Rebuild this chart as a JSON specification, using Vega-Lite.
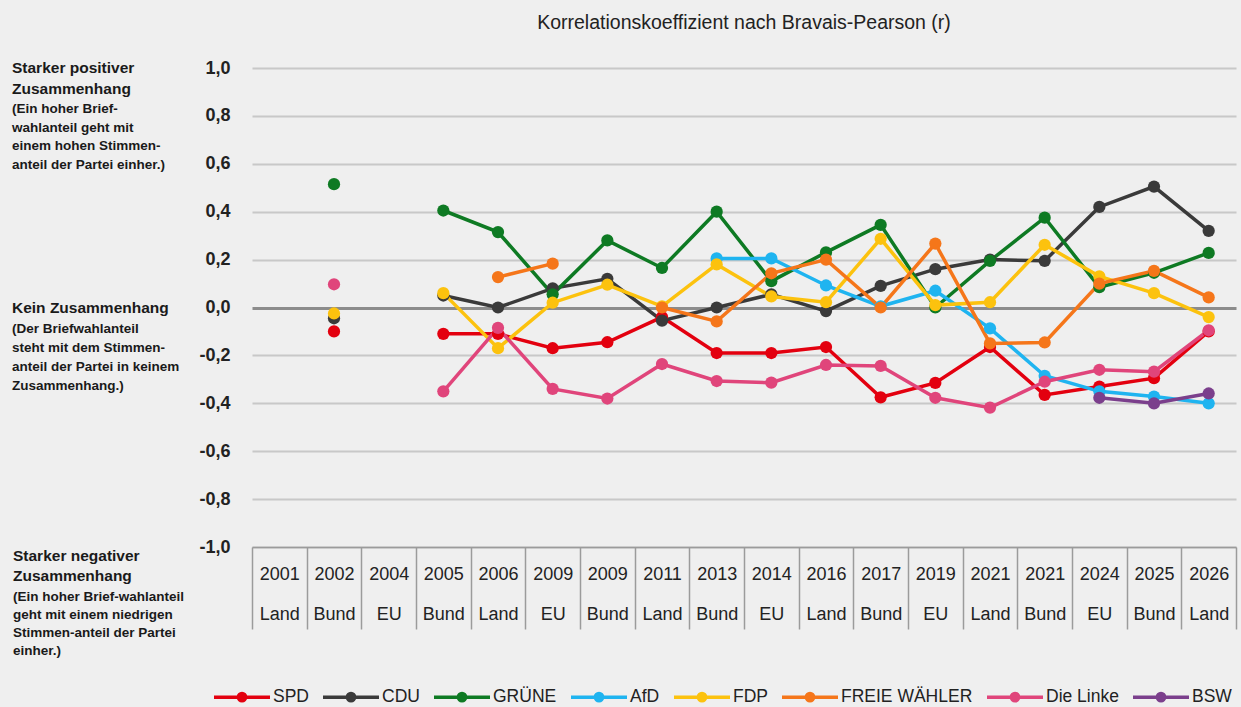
{
  "$schema": "https://vega.github.io/schema/vega-lite/v6.json",
  "background": "#efefef",
  "padding": {"left": 12, "top": 12, "right": 5, "bottom": 5},
  "width": 984,
  "height": 479,
  "title": {"text": "Korrelationskoeffizient nach Bravais-Pearson (r)", "font": "Liberation Sans, sans-serif", "fontSize": 19.5, "fontWeight": "normal", "color": "#222222", "anchor": "middle", "offset": 26},
  "config": {"view": {"stroke": null}, "font": "Liberation Sans, sans-serif"},
  "datasets": {
    "pts": [
      {"w":"2002 Bund","i":2,"p":"SPD","r":-0.10},{"w":"2004 EU","i":3,"p":"SPD","r":null},{"w":"2005 Bund","i":4,"p":"SPD","r":-0.11},{"w":"2006 Land","i":5,"p":"SPD","r":-0.11},{"w":"2009 EU","i":6,"p":"SPD","r":-0.17},{"w":"2009 Bund","i":7,"p":"SPD","r":-0.145},{"w":"2011 Land","i":8,"p":"SPD","r":-0.04},{"w":"2013 Bund","i":9,"p":"SPD","r":-0.19},{"w":"2014 EU","i":10,"p":"SPD","r":-0.19},{"w":"2016 Land","i":11,"p":"SPD","r":-0.165},{"w":"2017 Bund","i":12,"p":"SPD","r":-0.375},{"w":"2019 EU","i":13,"p":"SPD","r":-0.315},{"w":"2021 Land","i":14,"p":"SPD","r":-0.165},{"w":"2021 Bund","i":15,"p":"SPD","r":-0.365},{"w":"2024 EU","i":16,"p":"SPD","r":-0.33},{"w":"2025 Bund","i":17,"p":"SPD","r":-0.295},{"w":"2026 Land","i":18,"p":"SPD","r":-0.10},
      {"w":"2002 Bund","i":2,"p":"CDU","r":-0.045},{"w":"2004 EU","i":3,"p":"CDU","r":null},{"w":"2005 Bund","i":4,"p":"CDU","r":0.05},{"w":"2006 Land","i":5,"p":"CDU","r":0.0},{"w":"2009 EU","i":6,"p":"CDU","r":0.08},{"w":"2009 Bund","i":7,"p":"CDU","r":0.12},{"w":"2011 Land","i":8,"p":"CDU","r":-0.055},{"w":"2013 Bund","i":9,"p":"CDU","r":0.0},{"w":"2014 EU","i":10,"p":"CDU","r":0.055},{"w":"2016 Land","i":11,"p":"CDU","r":-0.015},{"w":"2017 Bund","i":12,"p":"CDU","r":0.09},{"w":"2019 EU","i":13,"p":"CDU","r":0.16},{"w":"2021 Land","i":14,"p":"CDU","r":0.20},{"w":"2021 Bund","i":15,"p":"CDU","r":0.195},{"w":"2024 EU","i":16,"p":"CDU","r":0.42},{"w":"2025 Bund","i":17,"p":"CDU","r":0.505},{"w":"2026 Land","i":18,"p":"CDU","r":0.32},
      {"w":"2002 Bund","i":2,"p":"GRÜNE","r":0.515},{"w":"2004 EU","i":3,"p":"GRÜNE","r":null},{"w":"2005 Bund","i":4,"p":"GRÜNE","r":0.405},{"w":"2006 Land","i":5,"p":"GRÜNE","r":0.315},{"w":"2009 EU","i":6,"p":"GRÜNE","r":0.055},{"w":"2009 Bund","i":7,"p":"GRÜNE","r":0.28},{"w":"2011 Land","i":8,"p":"GRÜNE","r":0.165},{"w":"2013 Bund","i":9,"p":"GRÜNE","r":0.40},{"w":"2014 EU","i":10,"p":"GRÜNE","r":0.11},{"w":"2016 Land","i":11,"p":"GRÜNE","r":0.23},{"w":"2017 Bund","i":12,"p":"GRÜNE","r":0.345},{"w":"2019 EU","i":13,"p":"GRÜNE","r":0.0},{"w":"2021 Land","i":14,"p":"GRÜNE","r":0.195},{"w":"2021 Bund","i":15,"p":"GRÜNE","r":0.375},{"w":"2024 EU","i":16,"p":"GRÜNE","r":0.085},{"w":"2025 Bund","i":17,"p":"GRÜNE","r":0.145},{"w":"2026 Land","i":18,"p":"GRÜNE","r":0.228},
      {"w":"2013 Bund","i":9,"p":"AfD","r":0.205},{"w":"2014 EU","i":10,"p":"AfD","r":0.205},{"w":"2016 Land","i":11,"p":"AfD","r":0.092},{"w":"2017 Bund","i":12,"p":"AfD","r":0.005},{"w":"2019 EU","i":13,"p":"AfD","r":0.07},{"w":"2021 Land","i":14,"p":"AfD","r":-0.087},{"w":"2021 Bund","i":15,"p":"AfD","r":-0.285},{"w":"2024 EU","i":16,"p":"AfD","r":-0.35},{"w":"2025 Bund","i":17,"p":"AfD","r":-0.372},{"w":"2026 Land","i":18,"p":"AfD","r":-0.40},
      {"w":"2002 Bund","i":2,"p":"FDP","r":-0.025},{"w":"2004 EU","i":3,"p":"FDP","r":null},{"w":"2005 Bund","i":4,"p":"FDP","r":0.06},{"w":"2006 Land","i":5,"p":"FDP","r":-0.17},{"w":"2009 EU","i":6,"p":"FDP","r":0.02},{"w":"2009 Bund","i":7,"p":"FDP","r":0.095},{"w":"2011 Land","i":8,"p":"FDP","r":0.005},{"w":"2013 Bund","i":9,"p":"FDP","r":0.18},{"w":"2014 EU","i":10,"p":"FDP","r":0.046},{"w":"2016 Land","i":11,"p":"FDP","r":0.022},{"w":"2017 Bund","i":12,"p":"FDP","r":0.287},{"w":"2019 EU","i":13,"p":"FDP","r":0.01},{"w":"2021 Land","i":14,"p":"FDP","r":0.022},{"w":"2021 Bund","i":15,"p":"FDP","r":0.262},{"w":"2024 EU","i":16,"p":"FDP","r":0.13},{"w":"2025 Bund","i":17,"p":"FDP","r":0.06},{"w":"2026 Land","i":18,"p":"FDP","r":-0.04},
      {"w":"2006 Land","i":5,"p":"FREIE WÄHLER","r":0.127},{"w":"2009 EU","i":6,"p":"FREIE WÄHLER","r":0.183},{"w":"2009 Bund","i":7,"p":"FREIE WÄHLER","r":null},{"w":"2011 Land","i":8,"p":"FREIE WÄHLER","r":0.0},{"w":"2013 Bund","i":9,"p":"FREIE WÄHLER","r":-0.058},{"w":"2014 EU","i":10,"p":"FREIE WÄHLER","r":0.143},{"w":"2016 Land","i":11,"p":"FREIE WÄHLER","r":0.2},{"w":"2017 Bund","i":12,"p":"FREIE WÄHLER","r":0.0},{"w":"2019 EU","i":13,"p":"FREIE WÄHLER","r":0.267},{"w":"2021 Land","i":14,"p":"FREIE WÄHLER","r":-0.15},{"w":"2021 Bund","i":15,"p":"FREIE WÄHLER","r":-0.146},{"w":"2024 EU","i":16,"p":"FREIE WÄHLER","r":0.10},{"w":"2025 Bund","i":17,"p":"FREIE WÄHLER","r":0.153},{"w":"2026 Land","i":18,"p":"FREIE WÄHLER","r":0.042},
      {"w":"2002 Bund","i":2,"p":"Die Linke","r":0.097},{"w":"2004 EU","i":3,"p":"Die Linke","r":null},{"w":"2005 Bund","i":4,"p":"Die Linke","r":-0.35},{"w":"2006 Land","i":5,"p":"Die Linke","r":-0.085},{"w":"2009 EU","i":6,"p":"Die Linke","r":-0.34},{"w":"2009 Bund","i":7,"p":"Die Linke","r":-0.38},{"w":"2011 Land","i":8,"p":"Die Linke","r":-0.236},{"w":"2013 Bund","i":9,"p":"Die Linke","r":-0.307},{"w":"2014 EU","i":10,"p":"Die Linke","r":-0.314},{"w":"2016 Land","i":11,"p":"Die Linke","r":-0.24},{"w":"2017 Bund","i":12,"p":"Die Linke","r":-0.244},{"w":"2019 EU","i":13,"p":"Die Linke","r":-0.377},{"w":"2021 Land","i":14,"p":"Die Linke","r":-0.418},{"w":"2021 Bund","i":15,"p":"Die Linke","r":-0.31},{"w":"2024 EU","i":16,"p":"Die Linke","r":-0.26},{"w":"2025 Bund","i":17,"p":"Die Linke","r":-0.268},{"w":"2026 Land","i":18,"p":"Die Linke","r":-0.095},
      {"w":"2024 EU","i":16,"p":"BSW","r":-0.377},{"w":"2025 Bund","i":17,"p":"BSW","r":-0.40},{"w":"2026 Land","i":18,"p":"BSW","r":-0.359}
    ],
    "notes": [
      {"r": 1.0, "head": "Starker positiver\nZusammenhang", "sub": "(Ein hoher Brief-\nwahlanteil  geht mit\neinem hohen Stimmen-\nanteil der Partei einher.)"},
      {"r": 0.0, "head": "Kein Zusammenhang", "sub": "(Der Briefwahlanteil\nsteht mit dem Stimmen-\nanteil der Partei in keinem\nZusammenhang.)"},
      {"r": -1.0, "head": "Starker negativer\nZusammenhang", "sub": "(Ein hoher Brief-wahlanteil\ngeht mit einem niedrigen\nStimmen-anteil der Partei\neinher.)"}
    ]
  },
  "layer": [
    {
      "data": {"name": "pts"},
      "mark": {"type": "line", "strokeWidth": 3.5, "point": {"filled": true, "size": 150, "opacity": 1}},
      "encoding": {
        "x": {
          "field": "w", "type": "nominal",
          "scale": {"type": "band", "paddingInner": 0, "paddingOuter": 0, "domain": ["2001 Land","2002 Bund","2004 EU","2005 Bund","2006 Land","2009 EU","2009 Bund","2011 Land","2013 Bund","2014 EU","2016 Land","2017 Bund","2019 EU","2021 Land","2021 Bund","2024 EU","2025 Bund","2026 Land"]},
          "axis": {"title": null, "labelAngle": 0, "labelExpr": "split(datum.label, ' ')", "labelLineHeight": 40, "labelFontSize": 18, "labelColor": "#222222", "labelBaseline": "top", "labelPadding": -64, "tickBand": "extent", "tickSize": 82, "tickColor": "#9b9b9b", "tickWidth": 1.5, "domainColor": "#9b9b9b", "domainWidth": 1.5, "grid": false}
        },
        "y": {
          "field": "r", "type": "quantitative",
          "scale": {"domain": [-1, 1], "nice": false, "zero": false},
          "axis": {"title": null, "values": [-1, -0.8, -0.6, -0.4, -0.2, 0, 0.2, 0.4, 0.6, 0.8, 1], "labelExpr": "replace(replace(format(datum.value, '.1f'), '.', ','), '\u2212', '-')", "labelFontSize": 18, "labelFontWeight": "bold", "labelColor": "#222222", "labelPadding": 22, "ticks": false, "domain": false, "grid": true, "gridColor": {"condition": {"test": "datum.value === 0", "value": "#8c8c8c"}, "value": "#c8c8c8"}, "gridWidth": {"condition": {"test": "datum.value === 0", "value": 3}, "value": 2}}
        },
        "color": {
          "field": "p", "type": "nominal",
          "scale": {"domain": ["SPD","CDU","GRÜNE","AfD","FDP","FREIE WÄHLER","Die Linke","BSW"], "range": ["#e3000f","#3a3a3a","#0e7a23","#1fb4f0","#fcc20e","#f5761a","#e0457b","#7b3f8c"]},
          "legend": {"title": null, "orient": "none", "legendX": -40, "legendY": 599, "direction": "horizontal", "columns": 8, "labelFontSize": 17.5, "labelColor": "#222222", "symbolType": "M-1,0H1M0.13,0A0.13,0.13 0 1,1 -0.13,0A0.13,0.13 0 1,1 0.13,0", "symbolSize": 3136, "symbolStrokeWidth": 3.5, "labelOffset": 1, "columnPadding": 7}
        },
        "order": {"field": "i", "type": "quantitative"}
      }
    },
    {
      "data": {"name": "notes"},
      "transform": [{"filter": "datum.r >= 0"}],
      "mark": {"type": "text", "align": "left", "baseline": "top", "dy": -7, "fontSize": 15.5, "fontWeight": "bold", "lineHeight": 21, "lineBreak": "\n", "color": "#1a1a1a"},
      "encoding": {
        "x": {"datum": -0.2439, "type": "quantitative", "scale": {"domain": [0, 1]}, "axis": null},
        "y": {"field": "r", "type": "quantitative", "title": null},
        "text": {"field": "head"}
      }
    },
    {
      "data": {"name": "notes"},
      "transform": [{"filter": "datum.r < 0"}],
      "mark": {"type": "text", "align": "left", "baseline": "top", "dy": 2, "fontSize": 15.5, "fontWeight": "bold", "lineHeight": 20, "lineBreak": "\n", "color": "#1a1a1a"},
      "encoding": {
        "x": {"datum": -0.2429, "type": "quantitative", "scale": {"domain": [0, 1]}, "axis": null},
        "y": {"field": "r", "type": "quantitative", "title": null},
        "text": {"field": "head"}
      }
    },
    {
      "data": {"name": "notes"},
      "transform": [{"filter": "datum.r == 1"}],
      "mark": {"type": "text", "align": "left", "baseline": "top", "dy": 34, "fontSize": 13.5, "fontWeight": "bold", "lineHeight": 18.5, "lineBreak": "\n", "color": "#1a1a1a"},
      "encoding": {
        "x": {"datum": -0.2439, "type": "quantitative", "scale": {"domain": [0, 1]}, "axis": null},
        "y": {"field": "r", "type": "quantitative", "title": null},
        "text": {"field": "sub"}
      }
    },
    {
      "data": {"name": "notes"},
      "transform": [{"filter": "datum.r == 0"}],
      "mark": {"type": "text", "align": "left", "baseline": "top", "dy": 14, "fontSize": 13.5, "fontWeight": "bold", "lineHeight": 19, "lineBreak": "\n", "color": "#1a1a1a"},
      "encoding": {
        "x": {"datum": -0.2439, "type": "quantitative", "scale": {"domain": [0, 1]}, "axis": null},
        "y": {"field": "r", "type": "quantitative", "title": null},
        "text": {"field": "sub"}
      }
    },
    {
      "data": {"name": "notes"},
      "transform": [{"filter": "datum.r == -1"}],
      "mark": {"type": "text", "align": "left", "baseline": "top", "dy": 43, "fontSize": 13.5, "fontWeight": "bold", "lineHeight": 18, "lineBreak": "\n", "color": "#1a1a1a"},
      "encoding": {
        "x": {"datum": -0.2429, "type": "quantitative", "scale": {"domain": [0, 1]}, "axis": null},
        "y": {"field": "r", "type": "quantitative", "title": null},
        "text": {"field": "sub"}
      }
    }
  ],
  "resolve": {"scale": {"x": "independent"}}
}
